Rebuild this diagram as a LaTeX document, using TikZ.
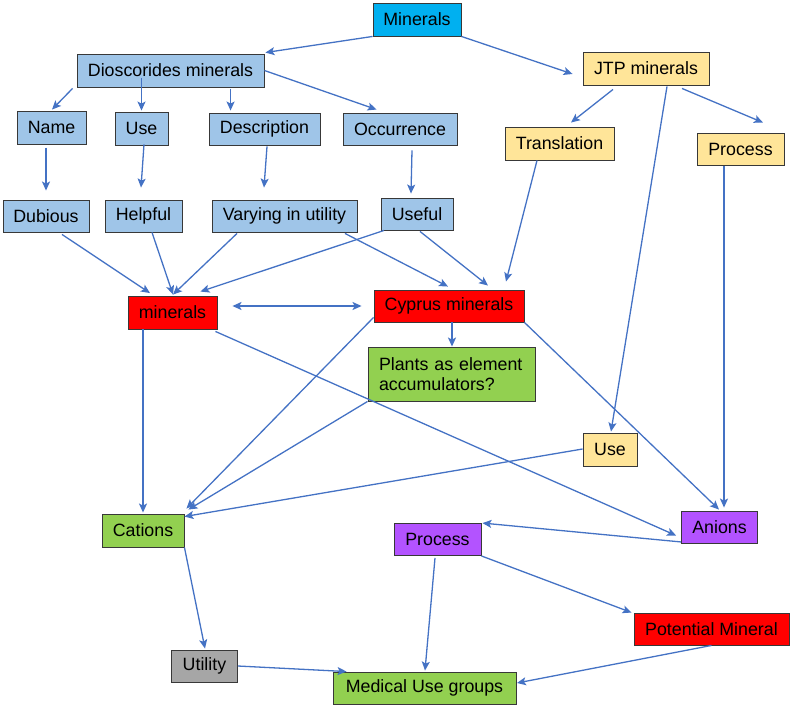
\documentclass[tikz,border=0pt]{standalone}
\usepackage{fontspec}
\setmainfont{Liberation Sans}
\usetikzlibrary{arrows.meta, calc}
\definecolor{topblue}{RGB}{0,176,240}
\definecolor{lightblue}{RGB}{159,197,232}
\definecolor{paleyellow}{RGB}{255,229,153}
\definecolor{brightred}{RGB}{255,0,0}
\definecolor{leafgreen}{RGB}{146,208,80}
\definecolor{violet}{RGB}{179,83,255}
\definecolor{midgray}{RGB}{166,166,166}
\definecolor{boxline}{RGB}{56,56,56}
\definecolor{arrowblue}{RGB}{68,114,196}

\begin{document}
\begin{tikzpicture}[x=1pt, y=-1pt, >={Stealth[length=9pt,width=8pt,inset=2pt]},
  box/.style={draw=boxline, line width=0.9pt, inner sep=0pt, minimum height=32pt, font=\fontsize{17.8}{20.5}\selectfont},
  bbox/.style={box, fill=lightblue},
  ybox/.style={box, fill=paleyellow},
  rbox/.style={box, fill=brightred},
  gbox/.style={box, fill=leafgreen},
  pbox/.style={box, fill=violet},
  arr/.style={draw=arrowblue, line width=1.3pt, ->}]
  \useasboundingbox (0,0) rectangle (790,707);

  \node[box, fill=topblue, minimum width=88pt, minimum height=33pt] (min) at (417,19.5) {Minerals};
  \node[bbox, minimum width=187pt, minimum height=33pt] (dio) at (170.5,70.5) {Dioscorides minerals};
  \node[bbox, minimum width=69pt, minimum height=33pt] (name) at (51.5,127.5) {Name};
  \node[bbox, minimum width=53pt, minimum height=33pt] (use) at (141.5,128.5) {Use};
  \node[bbox, minimum width=111pt] (desc) at (264.5,129) {Description};
  \node[bbox, minimum width=114pt] (occ) at (400,129) {Occurrence};
  \node[bbox, minimum width=86pt] (dub) at (46,216) {Dubious};
  \node[bbox, minimum width=77pt] (help) at (143.5,216) {Helpful};
  \node[bbox, minimum width=145pt] (vary) at (284.5,216) {Varying in utility};
  \node[bbox, minimum width=72pt] (useful) at (417,214) {Useful};
  \node[ybox, minimum width=126pt, minimum height=33pt] (jtp) at (646,68.5) {JTP minerals};
  \node[ybox, minimum width=109pt, minimum height=33pt] (trans) at (559.5,143.5) {Translation};
  \node[ybox, minimum width=87pt] (procy) at (740.5,149) {Process};
  \node[rbox, minimum width=89pt, minimum height=33pt] (minr) at (172.5,312.5) {minerals};
  \node[rbox, minimum width=150pt] (cyp) at (449,306) {Cyprus minerals};
  \node[gbox, minimum width=167pt, minimum height=54pt, text width=145pt, align=left] (plants) at (451.5,374) {Plants as element\\accumulators?};
  \node[ybox, minimum width=54pt, minimum height=33pt] (usey) at (610,449.5) {Use};
  \node[gbox, minimum width=82pt, minimum height=33pt] (cat) at (143,530.5) {Cations};
  \node[pbox, minimum width=87pt] (procp) at (437.5,539.5) {Process};
  \node[pbox, minimum width=76pt] (anion) at (719.5,527.5) {Anions};
  \node[rbox, minimum width=155pt] (pot) at (711.5,629) {Potential Mineral};
  \node[box, fill=midgray, minimum width=66pt] (util) at (204.5,666) {Utility};
  \node[gbox, minimum width=183pt] (med) at (424.5,688) {Medical Use groups};

  \draw[arr] (min.south west) -- ($(dio.north east)+(1,-1)$);
  \draw[arr] (min.south east) -- ($(jtp.west)+(-10,5.5)$);
  \draw[arr] ($(dio.south west)+(-4,1)$) -- ($(name.north)+(0.5,-1)$);
  \draw[arr] ($(use.north)+(0,-34)$) -- ($(use.north)+(0,-1)$);
  \draw[arr] ($(desc.north west)+(22,-24)$) -- ($(desc.north west)+(22,-2)$);
  \draw[arr] (dio.east) -- ($(occ.north west)+(34,-3)$);
  \draw[arr] ($(dub.north)+(0,-52)$) -- ($(dub.north)+(0,-9)$);
  \draw[arr] ($(use.south)+(2.5,-1)$) -- ($(help.north)+(-2.5,-12)$);
  \draw[arr] ($(desc.south)+(2.5,1)$) -- ($(vary.north)+(-20.5,-12)$);
  \draw[arr] ($(occ.south)+(12,5)$) -- ($(useful.north)+(-6,-4)$);
  \draw[arr] ($(jtp.south)+(-33,4)$) -- ($(trans.north)+(11.5,-4)$);
  \draw[arr] ($(jtp.south)+(36,3)$) -- ($(procy.north)+(22.5,-10)$);
  \draw[arr] ($(jtp.south)+(21,1)$) -- ($(usey.north)+(1,-1)$);
  \draw[arr] ($(procy.south)+(-16.5,1)$) -- ($(anion.north)+(4.5,-3.5)$);
  \draw[arr] ($(trans.south)+(-22.5,0)$) -- ($(cyp.north)+(57,-8)$);
  \draw[arr] ($(dub.south)+(16,2)$) -- ($(minr.north)+(-22.5,-2.5)$);
  \draw[arr] ($(help.south)+(8.5,0)$) -- ($(minr.north)+(0.5,-1)$);
  \draw[arr] ($(vary.south)+(-47.5,1)$) -- ($(minr.north)+(0.5,-1)$);
  \draw[arr] ($(useful.south)+(-33,0)$) -- ($(minr.north east)+(-17,-4)$);
  \draw[arr] ($(vary.south)+(60.5,1)$) -- ($(cyp.north)+(-1,-3)$);
  \draw[arr] ($(useful.south)+(3,1)$) -- ($(cyp.north)+(39,-4)$);
  \draw[arr, <->] ($(minr.east)+(15,-6.5)$) -- ($(cyp.west)+(-12,0)$);
  \draw[arr] ($(cyp.south)+(3,0)$) -- ($(plants.north)+(0.5,0)$);
  \draw[arr] ($(minr.south)+(-29.5,0)$) -- ($(cat.north)+(0,-1)$);
  \draw[arr] ($(cyp.south west)+(0,-5)$) -- ($(cat.north east)+(2,-5)$);
  \draw[arr] (plants.south west) -- ($(cat.north east)+(4,-4)$);
  \draw[arr] ($(usey.west)+(0,-0.5)$) -- ($(cat.north east)+(0,3)$);
  \draw[arr] ($(minr.south east)+(-2,2)$) -- ($(anion.west)+(-5,8)$);
  \draw[arr] (cyp.south east) -- ($(anion.north)+(-0.5,-1.5)$);
  \draw[arr] ($(anion.south west)+(0,-2)$) -- ($(procp.north east)+(1,0)$);
  \draw[arr] (procp.south east) -- ($(pot.north west)+(-2,0)$);
  \draw[arr] ($(procp.south)+(-2.5,2)$) -- ($(med.north)+(0.5,-1)$);
  \draw[arr] (pot.south) -- ($(med.east)+(0.5,-5)$);
  \draw[arr] (cat.south east) -- ($(util.north)+(0.5,-1)$);
  \draw[arr] (util.east) -- ($(med.north west)+(14,0)$);
\end{tikzpicture}
\end{document}
